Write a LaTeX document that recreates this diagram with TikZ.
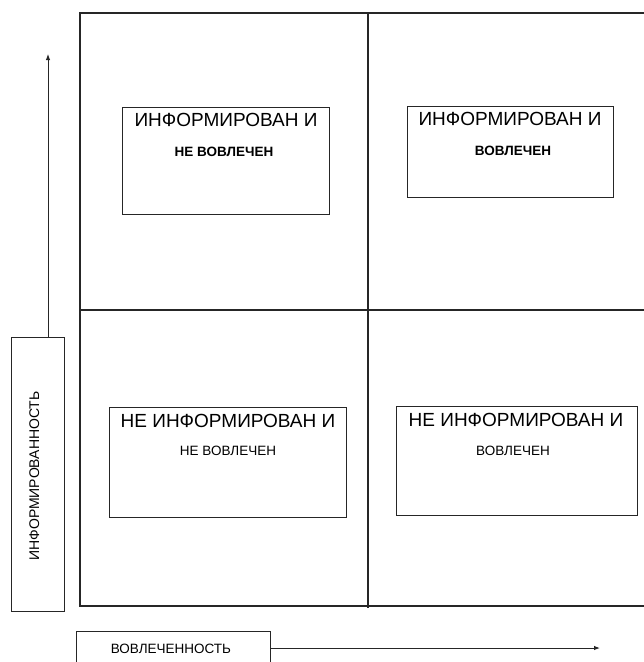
\documentclass[tikz,border=0pt]{standalone}
\usepackage{fontspec}
\setmainfont{Liberation Sans}
\usetikzlibrary{arrows.meta}

\begin{document}
\begin{tikzpicture}[x=1pt,y=-1pt,
    frame/.style={line width=1.3pt,draw=black!85},
    box/.style={draw=black!85,line width=1pt,inner sep=0pt},
    head/.style={font=\fontsize{19}{19}\selectfont,anchor=base},
    sub/.style={font=\fontsize{13.5}{13.5}\selectfont,anchor=base},
    axis/.style={-{Latex[length=6pt,width=4.5pt]},line width=1pt,draw=black!85}]
    \useasboundingbox (0,0) rectangle (644,662);
    \clip (0,0) rectangle (644,662);
    % quadrants
    \draw[frame] (650,13) -- (80,13) -- (80,606) -- (650,606);
    \draw[frame] (368,13) -- (368,608);
    \draw[frame] (80,310) -- (650,310);
    % top left
    \node[box,minimum width=207pt,minimum height=107pt] (infnotinv) at (225.5,160.5) {};
    \node[head] (infnotinvhead) at (226,126) {ИНФОРМИРОВАН И};
    \node[sub,font=\fontsize{13.5}{13.5}\selectfont\bfseries] (infnotinvsub) at (224,156) {НЕ ВОВЛЕЧЕН};
    % top right
    \node[box,minimum width=206pt,minimum height=91pt] (infinv) at (510,151.5) {};
    \node[head] (infinvhead) at (510,125) {ИНФОРМИРОВАН И};
    \node[sub,font=\fontsize{13.5}{13.5}\selectfont\bfseries] (infinvsub) at (513,155) {ВОВЛЕЧЕН};
    % bottom left
    \node[box,minimum width=237pt,minimum height=110pt] (notinfnotinv) at (227.5,462) {};
    \node[head] (notinfnotinvhead) at (228,427) {НЕ ИНФОРМИРОВАН И};
    \node[sub] (notinfnotinvsub) at (228,455) {НЕ ВОВЛЕЧЕН};
    % bottom right
    \node[box,minimum width=241pt,minimum height=109pt] (notinfinv) at (516.5,460.5) {};
    \node[head] (notinfinvhead) at (516,426) {НЕ ИНФОРМИРОВАН И};
    \node[sub] (notinfinvsub) at (513,455) {ВОВЛЕЧЕН};
    % axes
    \node[box,minimum width=53pt,minimum height=274pt] (infbox) at (37.5,474) {};
    \node[sub,rotate=90,font=\fontsize{14}{14}\selectfont] (inflabel) at (39,476) {ИНФОРМИРОВАННОСТЬ};
    \coordinate (inftip) at (48,54);
    \draw[axis] (infbox.north -| inftip) -- (inftip);
    \node[box,minimum width=194pt,minimum height=50pt] (invbox) at (173,656) {};
    \node[sub] (invlabel) at (171,653) {ВОВЛЕЧЕННОСТЬ};
    \coordinate (invtip) at (600,648);
    \draw[axis] (invbox.east |- invtip) -- (invtip);
\end{tikzpicture}
\end{document}
